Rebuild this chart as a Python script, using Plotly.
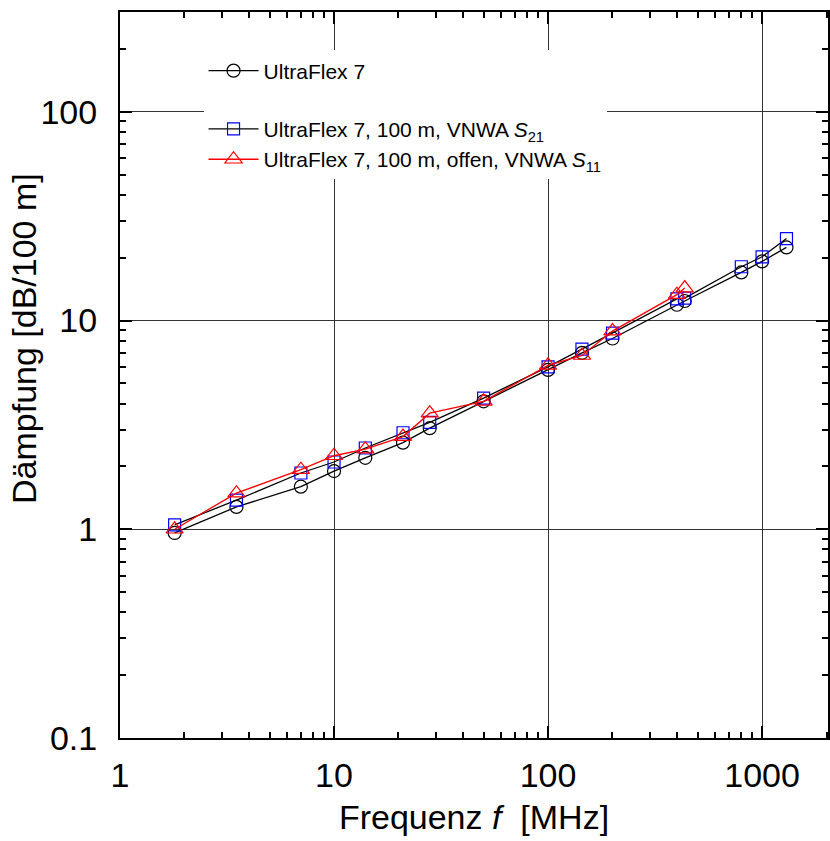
import plotly.graph_objects as go

# Frequencies [MHz]
freq_circ = [1.8, 3.5, 7, 10, 14, 21, 28, 50, 100, 144, 200, 400, 435, 800, 1000, 1300]
freq_sq = [1.8, 3.5, 7, 10, 14, 21, 28, 50, 100, 144, 200, 400, 435, 800, 1000, 1300]
freq_tri = [1.8, 3.5, 7, 10, 14, 21, 28, 50, 100, 144, 200, 400, 435]

# Attenuation [dB/100 m]
att_circ = [0.96, 1.28, 1.60, 1.90, 2.20, 2.60, 3.05, 4.10, 5.8, 7.0, 8.2, 11.9, 12.4, 17.0, 19.2, 22.4]
att_sq = [1.05, 1.38, 1.86, 2.10, 2.45, 2.90, 3.25, 4.25, 6.0, 7.3, 8.7, 12.7, 12.8, 18.1, 20.2, 24.7]
att_tri = [1.00, 1.49, 1.93, 2.25, 2.42, 2.78, 3.60, 4.10, 6.1, 6.8, 8.9, 13.3, 14.3]

names = ["UltraFlex 7",
         "UltraFlex 7, 100 m, VNWA <i>S</i><sub>21</sub>",
         "UltraFlex 7, 100 m, offen, VNWA <i>S</i><sub>11</sub>"]

x_major = [1, 10, 100, 1000]
y_major = [0.1, 1, 10, 100]
x_minor = [m * d for d in (1, 10, 100, 1000) for m in range(2, 10) if m * d <= 2000]
y_minor = [m * d for d in (0.1, 1, 10, 100) for m in range(2, 10) if m * d <= 300]

FONT = "Liberation Sans, Arial, sans-serif"

fig = go.Figure()
fig.add_trace(go.Scatter(
    x=freq_circ, y=att_circ, name=names[0], mode="lines+markers",
    line=dict(color="black", width=1.3),
    marker=dict(symbol="circle-open", size=13, color="black", line=dict(width=1.2)),
    legendgroup="a"))
fig.add_trace(go.Scatter(
    x=freq_sq, y=att_sq, name=names[1], mode="lines+markers",
    line=dict(color="black", width=1.3),
    marker=dict(symbol="square-open", size=12, color="blue", line=dict(width=1.2)),
    legendgroup="b"))
fig.add_trace(go.Scatter(
    x=freq_tri, y=att_tri, name=names[2], mode="lines+markers",
    line=dict(color="red", width=1.3),
    marker=dict(symbol="triangle-up-open", size=15, color="red", line=dict(width=1.2)),
    legendgroup="b"))

axis_common = dict(
    type="log", showline=True, linecolor="black", linewidth=2, mirror="allticks",
    ticks="inside", ticklen=12, tickwidth=2, tickcolor="black",
    showgrid=True, gridcolor="#333333", gridwidth=1, zeroline=False,
    tickfont=dict(size=34, family=FONT, color="black"),
    automargin=False,
)

fig.update_xaxes(**axis_common, range=[0, 3.308],
                 tickvals=x_major, ticktext=[str(v) for v in x_major],
                 ticklabelstandoff=6,
                 minor=dict(tickvals=x_minor, ticks="inside", ticklen=6, tickwidth=1.5,
                            tickcolor="black", showgrid=False),
                 title=dict(text="Frequenz <i>f</i>  [MHz]",
                            font=dict(size=34, family=FONT, color="black"), standoff=12))
fig.update_yaxes(**axis_common, range=[-1, 2.478],
                 tickvals=y_major, ticktext=["0.1", "1", "10", "100"],
                 ticklabelstandoff=14,
                 minor=dict(tickvals=y_minor, ticks="inside", ticklen=6, tickwidth=1.5,
                            tickcolor="black", showgrid=False))

fig.add_annotation(text="Dämpfung [dB/100 m]", xref="paper", yref="paper",
                   x=-(120 - 24) / 708, y=(738 - 339) / 726,
                   xanchor="center", yanchor="middle",
                   textangle=-90, showarrow=False,
                   font=dict(size=34, family=FONT, color="black"))

fig.update_layout(
    width=830, height=841,
    margin=dict(l=120, r=2, t=12, b=103),
    plot_bgcolor="white", paper_bgcolor="white",
    font=dict(family=FONT, color="black"),
    legend=dict(x=0.118, y=0.947, xanchor="left", yanchor="top",
                bgcolor="white", borderwidth=0,
                font=dict(size=21, family=FONT, color="black"),
                traceorder="grouped", tracegroupgap=28, itemwidth=50),
)

fig.write_html("out.html", config={"displayModeBar": False},
               post_script="document.body.style.margin='0';document.body.style.overflow='hidden';")
